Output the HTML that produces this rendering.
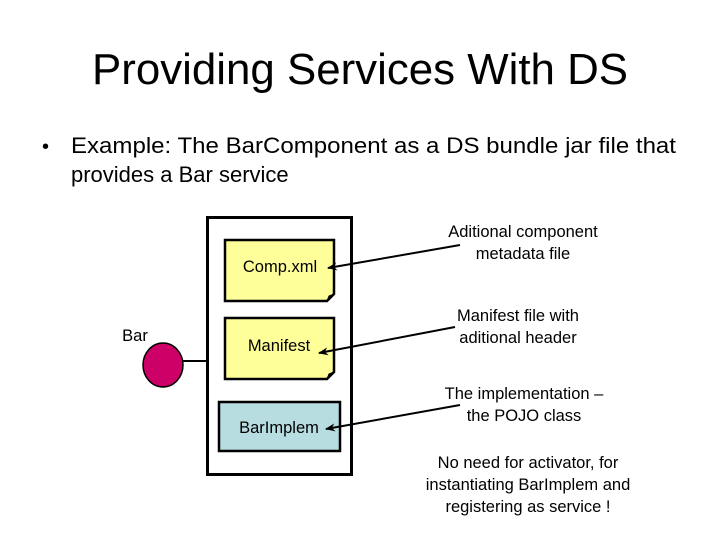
<!DOCTYPE html>
<html><head><style>body{margin:0;background:#fff}svg{display:block}</style></head><body>
<svg width="720" height="540" viewBox="0 0 720 540" xmlns="http://www.w3.org/2000/svg" font-family="Liberation Sans, Arial, sans-serif">
<defs><marker id="a" markerWidth="10" markerHeight="8" refX="9" refY="4" orient="auto" markerUnits="userSpaceOnUse"><path d="M0,0 L10,4 L0,8 L3,4 Z" fill="#000"/></marker></defs>
<text x="360" y="84" font-size="44" text-anchor="middle" textLength="536" lengthAdjust="spacingAndGlyphs">Providing Services With DS</text>
<text x="42" y="153" font-size="20">•</text>
<text x="71" y="153" font-size="22" textLength="605" lengthAdjust="spacingAndGlyphs">Example: The BarComponent as a DS bundle jar file that</text>
<text x="71" y="182" font-size="22">provides a Bar service</text>
<rect x="207.5" y="217.5" width="144" height="257" fill="#fff" stroke="#000" stroke-width="3"/>
<line x1="183" y1="361" x2="207" y2="361" stroke="#000" stroke-width="2"/>
<ellipse cx="163" cy="365" rx="20" ry="22" fill="#cc0066" stroke="#000" stroke-width="1.5"/>
<text x="135" y="341" font-size="16.5" text-anchor="middle">Bar</text>
<path d="M225,240 H334 V294 L327,301 H225 Z" fill="#ffff99" stroke="#000" stroke-width="2.5"/>
<path d="M327,301 L329,296 L334,294" fill="#000" stroke="#000"/>
<path d="M225,318 H334 V372 L327,379 H225 Z" fill="#ffff99" stroke="#000" stroke-width="2.5"/>
<path d="M327,379 L329,374 L334,372" fill="#000" stroke="#000"/>
<rect x="219" y="402" width="121" height="49" fill="#b8dde0" stroke="#000" stroke-width="2.5"/>
<text x="280" y="272" font-size="16.5" text-anchor="middle">Comp.xml</text>
<text x="279" y="351" font-size="16.5" text-anchor="middle">Manifest</text>
<text x="279" y="433" font-size="16.5" text-anchor="middle">BarImplem</text>
<line x1="460" y1="245" x2="328" y2="268" stroke="#000" stroke-width="2" marker-end="url(#a)"/>
<line x1="455" y1="327" x2="319" y2="353" stroke="#000" stroke-width="2" marker-end="url(#a)"/>
<line x1="460" y1="405" x2="326" y2="429" stroke="#000" stroke-width="2" marker-end="url(#a)"/>
<g font-size="16.5" text-anchor="middle">
<text x="523" y="237">Aditional component</text>
<text x="523" y="259">metadata file</text>
<text x="518" y="321">Manifest file with</text>
<text x="518" y="343">aditional header</text>
<text x="524" y="399">The implementation –</text>
<text x="524" y="421">the POJO class</text>
<text x="528" y="468">No need for activator, for</text>
<text x="528" y="490">instantiating BarImplem and</text>
<text x="528" y="512">registering as service !</text>
</g>
</svg>
</body></html>
